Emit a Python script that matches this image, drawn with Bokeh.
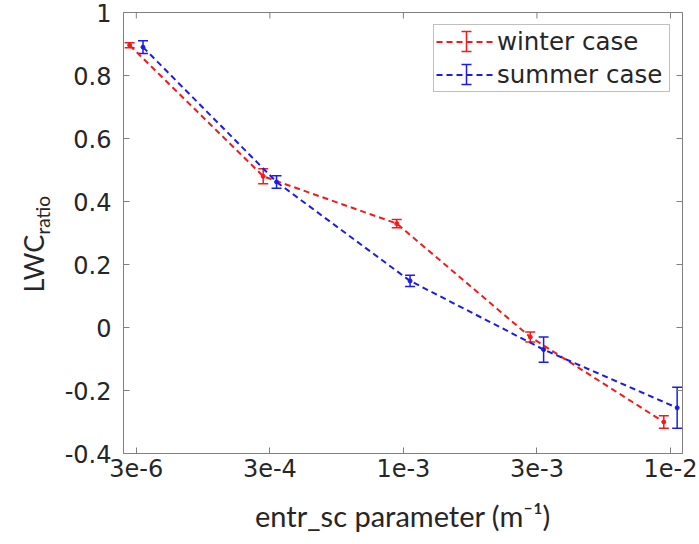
import numpy as np
from bokeh.plotting import figure
from bokeh.layouts import row
from bokeh.models import (ColumnDataSource, Whisker, TeeHead, FixedTicker,
                          Legend, LegendItem, Arrow, Range1d)
from bokeh.core.properties import value
from bokeh.embed import file_html
from bokeh.resources import INLINE

# ---- data ----
categories = ["3e-6", "3e-4", "1e-3", "3e-3", "1e-2"]
winter_vals = [0.896, 0.480, 0.330, -0.030, -0.300]
winter_err = [0.008, 0.024, 0.013, 0.016, 0.020]
summer_vals = [0.890, 0.462, 0.148, -0.070, -0.255]
summer_err = [0.020, 0.020, 0.018, 0.040, 0.065]
y_ticks = [-0.4, -0.2, 0.0, 0.2, 0.4, 0.6, 0.8, 1.0]
y_tick_labels = ["-0.4", "-0.2", "0", "0.2", "0.4", "0.6", "0.8", "1"]

RED = "#f01c1c"
BLUE = "#1c1ce6"
AXC = "#808080"
TXT = "#262626"
OFF = 0.05
LEFTW = 60
TOP, BOTTOM = 12, 91

idx = np.arange(len(categories))

def src(vals, err, off):
    v = np.array(vals)
    e = np.array(err)
    return ColumnDataSource(dict(x=idx + off, y=v, lo=v - e, hi=v + e))

ws = src(winter_vals, winter_err, -OFF)
ss = src(summer_vals, summer_err, OFF)

X0, X1 = -0.096, 4.09
Y0, Y1 = -0.4, 1.0
p = figure(width=699 - LEFTW, height=544, output_backend="svg", toolbar_location=None,
           x_range=Range1d(X0, X1), y_range=Range1d(Y0, Y1))
p.min_border_left = 123 - LEFTW
p.min_border_right = 17
p.min_border_top = TOP
p.min_border_bottom = BOTTOM
FW = 699 - 123 - 17
FH = 544 - TOP - BOTTOM
p.background_fill_color = "white"
p.border_fill_color = "white"
p.xgrid.visible = False
p.ygrid.visible = False
p.outline_line_color = AXC
p.outline_line_width = 1

# axes
xa = p.xaxis[0]
xa.ticker = FixedTicker(ticks=list(idx))
xa.major_label_overrides = {int(i): c for i, c in zip(idx, categories)}
ya = p.yaxis[0]
ya.ticker = FixedTicker(ticks=y_ticks)
ya.major_label_overrides = {t: l for t, l in zip(y_ticks, y_tick_labels)}
for ax in (xa, ya):
    ax.axis_line_color = AXC
    ax.major_tick_line_color = AXC
    ax.major_tick_in = 6
    ax.major_tick_out = 0
    ax.minor_tick_line_color = None
    ax.major_label_text_font = "DejaVu Sans"
    ax.major_label_text_font_size = "24px"
    ax.major_label_text_color = TXT
xa.major_label_standoff = 5
ya.major_label_standoff = 12
xa.axis_label = "entr_sc parameter (m\u207b\u00b9)"
xa.axis_label_text_font = "Lato"
xa.axis_label_text_font_size = "29px"
xa.axis_label_text_font_style = "normal"
xa.axis_label_text_color = TXT
xa.axis_label_standoff = 18

# box ticks on top and right sides (inward, 6 px)
tdy = 6 * (Y1 - Y0) / FH
tdx = 6 * (X1 - X0) / FW
p.segment(x0=idx, y0=[Y1] * len(idx), x1=idx, y1=[Y1 - tdy] * len(idx), line_color=AXC, line_width=1)
p.segment(x0=[X1] * len(y_ticks), y0=y_ticks, x1=[X1 - tdx] * len(y_ticks), y1=y_ticks,
          line_color=AXC, line_width=1)

# series
lw = p.line("x", "y", source=ws, line_color=RED, line_width=2, line_dash="6 4")
ls = p.line("x", "y", source=ss, line_color=BLUE, line_width=2, line_dash="6 4")
for s, c in ((ws, RED), (ss, BLUE)):
    p.add_layout(Whisker(source=s, base="x", lower="lo", upper="hi", dimension="height",
                         line_color=c, line_width=1.5,
                         lower_head=TeeHead(size=10, line_color=c, line_width=1.5),
                         upper_head=TeeHead(size=10, line_color=c, line_width=1.5)))
p.scatter("x", "y", source=ws, marker="circle", size=4, fill_color=RED, line_color=RED)
p.scatter("x", "y", source=ss, marker="circle", size=4, fill_color=BLUE, line_color=BLUE)

legend = Legend(items=[LegendItem(label="winter case", renderers=[lw]),
                       LegendItem(label="summer case", renderers=[ls])],
                location="top_right")
legend.margin = 12
legend.padding = 2
legend.spacing = 4
legend.glyph_width = 57
legend.glyph_height = 29
legend.label_height = 29
legend.label_width = 170
legend.label_standoff = 4
legend.label_text_font = "DejaVu Sans"
legend.label_text_font_size = "24.5px"
legend.label_text_color = TXT
legend.border_line_color = AXC
legend.border_line_width = 1
legend.background_fill_alpha = 0
p.add_layout(legend)

# I-shaped error symbols in the legend (screen units relative to the frame)
for cy, c in ((41, RED), (74, BLUE)):
    sy = (544 - BOTTOM) - cy
    p.add_layout(Arrow(x_start=343, y_start=sy - 10, x_end=343, y_end=sy + 10,
                       start_units="screen", end_units="screen",
                       line_color=c, line_width=1.5,
                       start=TeeHead(size=10, line_color=c, line_width=1.5),
                       end=TeeHead(size=10, line_color=c, line_width=1.5)))

# y-axis title with subscript, in a narrow side figure (frame aligned with main plot)
q = figure(width=LEFTW, height=544, output_backend="svg", toolbar_location=None,
           x_range=Range1d(0, LEFTW), y_range=Range1d(544 - BOTTOM, TOP),
           x_axis_type=None, y_axis_type=None)
q.min_border_left = 0
q.min_border_right = 0
q.min_border_top = TOP
q.min_border_bottom = BOTTOM
q.outline_line_color = None
q.xgrid.visible = False
q.ygrid.visible = False
q.text(x=[33], y=[292], text=["LWC"], angle=np.pi / 2, text_align="left",
       text_baseline="alphabetic", text_font=value("Lato"), text_font_size="27px", text_color=TXT)
q.text(x=[42], y=[234], text=["ratio"], angle=np.pi / 2, text_align="left",
       text_baseline="alphabetic", text_font=value("Lato"), text_font_size="19px", text_color=TXT)

layout = row(q, p, spacing=0)
open("out.html", "w").write(file_html(layout, INLINE))
